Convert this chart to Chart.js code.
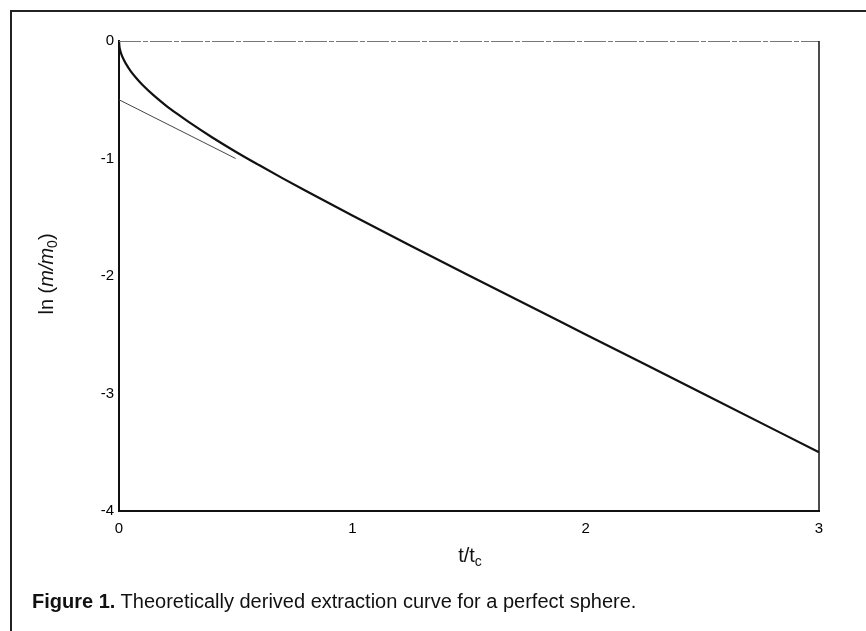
<!DOCTYPE html>
<html>
<head>
<meta charset="utf-8">
<script src="https://cdn.jsdelivr.net/npm/chart.js@4.4.0/dist/chart.umd.min.js"></script>
<style>
    body { margin: 0; background: #fff; }
    #page { position: relative; width: 866px; height: 631px; overflow: hidden; background: #fff; }
    #frame { position: absolute; left: 10px; top: 10px; width: 900px; height: 700px;
             border-left: 2px solid #222; border-top: 2px solid #222; }
    #wrap { position: absolute; left: 0; top: 0; width: 866px; height: 631px; }
    #caption { position: absolute; left: 32px; top: 590px; font-family: "Liberation Sans", Arial, sans-serif;
               font-size: 20px; color: #111; white-space: nowrap; }
    #caption b { font-weight: bold; }
</style>
</head>
<body>
<div id="page">
    <div id="frame"></div>
    <div id="wrap"><canvas id="extractionChart" width="866" height="631"></canvas></div>
    <div id="caption"><b>Figure 1.</b> Theoretically derived extraction curve for a perfect sphere.</div>
</div>

<script>
// values: t/tc and ln(m/m0)
const timeValues = [0, 0.002, 0.005, 0.01, 0.02, 0.03, 0.05, 0.07, 0.1, 0.15, 0.2, 0.25, 0.3,
    0.4, 0.5, 0.6, 0.7, 0.8, 1.0, 1.25, 1.5, 2.0, 2.5, 3.0];
const curveValues = [0, -0.049, -0.078, -0.111, -0.158, -0.195, -0.256, -0.306, -0.372, -0.465, -0.547, -0.621, -0.691,
    -0.821, -0.942, -1.056, -1.167, -1.275, -1.485, -1.742, -1.995, -2.497, -2.998, -3.5];

// straight asymptote (thin line)
const lineTimes = [0, 0.5];
const lineValues = [-0.5, -1.0];

const xTicks = [0, 1, 2, 3];
const yTicks = [0, -1, -2, -3, -4];

const tickFont = { family: "'Liberation Sans', Arial, sans-serif", size: 15 };

const framePlugin = {
    id: "framePlugin",
    afterDraw(chart) {
        const ctx = chart.ctx;
        const a = chart.chartArea;
        ctx.save();
        // top edge, faint and broken
        ctx.strokeStyle = "#777";
        ctx.lineWidth = 1;
        ctx.setLineDash([22, 2, 5, 2]);
        ctx.beginPath();
        ctx.moveTo(a.left, a.top + 0.5);
        ctx.lineTo(a.right, a.top + 0.5);
        ctx.stroke();
        // right edge
        ctx.setLineDash([]);
        ctx.strokeStyle = "#111";
        ctx.lineWidth = 1.5;
        ctx.beginPath();
        ctx.moveTo(a.right, a.top);
        ctx.lineTo(a.right, a.bottom);
        ctx.stroke();

        // axis titles with sub/italic parts
        ctx.fillStyle = "#111";
        ctx.textBaseline = "alphabetic";
        const fam = "'Liberation Sans', Arial, sans-serif";

        // x title: t/t_c
        const xMid = (a.left + a.right) / 2 + 1;
        ctx.font = "20px " + fam;
        const w1 = ctx.measureText("t/t").width;
        ctx.font = "14px " + fam;
        const w2 = ctx.measureText("c").width;
        let x = xMid - (w1 + w2) / 2;
        ctx.font = "20px " + fam;
        ctx.fillText("t/t", x, 562);
        ctx.font = "14px " + fam;
        ctx.fillText("c", x + w1, 566);

        // y title: ln (m/m_0)
        const parts = [
            { t: "ln (", f: "20px " + fam, dy: 0 },
            { t: "m/m", f: "italic 20px " + fam, dy: 0 },
            { t: "0", f: "14px " + fam, dy: 4 },
            { t: ")", f: "20px " + fam, dy: 0 }
        ];
        let total = 0;
        parts.forEach(p => { ctx.font = p.f; p.w = ctx.measureText(p.t).width; total += p.w; });
        ctx.translate(53, 274);
        ctx.rotate(-Math.PI / 2);
        let px = -total / 2;
        parts.forEach(p => {
            ctx.font = p.f;
            ctx.fillText(p.t, px, p.dy);
            px += p.w;
        });
        ctx.restore();
    }
};

const ctx = document.getElementById("extractionChart").getContext("2d");
new Chart(ctx, {
    type: "scatter",
    data: {
        datasets: [
            {
                label: "ln(m/m0)",
                data: timeValues.map((t, i) => ({ x: t, y: curveValues[i] })),
                showLine: true,
                borderColor: "#111",
                borderWidth: 2.2,
                pointRadius: 0,
                cubicInterpolationMode: "monotone"
            },
            {
                label: "asymptote",
                data: lineTimes.map((t, i) => ({ x: t, y: lineValues[i] })),
                showLine: true,
                borderColor: "#444",
                borderWidth: 1,
                pointRadius: 0
            }
        ]
    },
    options: {
        responsive: false,
        animation: false,
        devicePixelRatio: 1,
        layout: { padding: { left: 0, right: 47, top: 41, bottom: 0 } },
        plugins: {
            legend: { display: false },
            tooltip: { enabled: false }
        },
        scales: {
            x: {
                type: "linear",
                min: 0,
                max: 3,
                afterBuildTicks: s => { s.ticks = xTicks.map(v => ({ value: v })); },
                afterFit: s => { s.height = 120; },
                grid: { display: false, drawTicks: false },
                border: { color: "#111", width: 2 },
                ticks: { font: tickFont, color: "#000", padding: 9, maxRotation: 0 }
            },
            y: {
                type: "linear",
                min: -4,
                max: 0,
                afterBuildTicks: s => { s.ticks = yTicks.map(v => ({ value: v })); },
                afterFit: s => { s.width = 119; },
                grid: { display: false, drawTicks: false },
                border: { color: "#111", width: 2 },
                ticks: { font: tickFont, color: "#000", padding: 5 }
            }
        }
    },
    plugins: [framePlugin]
});
</script>
</body>
</html>
